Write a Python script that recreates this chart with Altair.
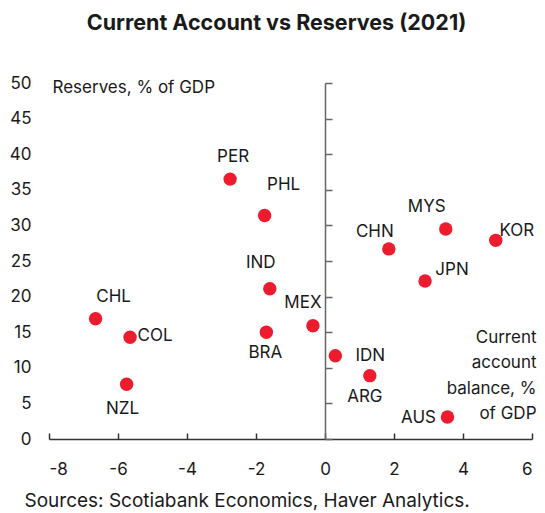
import altair as alt
import pandas as pd

# ---- data ----
countries = ["PER", "PHL", "IND", "BRA", "CHL", "COL", "NZL", "MEX",
             "IDN", "ARG", "CHN", "MYS", "KOR", "JPN", "AUS"]
current_account = [-2.75, -1.75, -1.6, -1.7, -6.65, -5.65, -5.75, -0.35,
                   0.3, 1.3, 1.85, 3.5, 4.95, 2.9, 3.55]
reserves = [36.5, 31.4, 21.1, 15.0, 16.9, 14.3, 7.7, 15.9,
            11.7, 8.9, 26.7, 29.5, 27.9, 22.2, 3.1]
x_ticks = [-8, -6, -4, -2, 0, 2, 4, 6]
y_ticks = [0, 5, 10, 15, 20, 25, 30, 35, 40, 45, 50]

# ---- styling: label placement relative to each point (pixels) ----
LABEL_OFFSET = {
    "PER": (3, -22), "PHL": (19, -30), "IND": (-9, -26), "BRA": (-1, 21),
    "CHL": (18, -22), "COL": (25, -1), "NZL": (-4, 25), "MEX": (-10, -23),
    "IDN": (35, 0), "ARG": (-5, 21), "CHN": (-14, -17), "MYS": (-19, -22),
    "KOR": (21, -9), "JPN": (27, -11), "AUS": (-29, 1),
}

FONT = "Inter"
RED = "#ec1c2e"
TXT = "#1a1a1a"
W, H = 483, 356
FS = 17

df = pd.DataFrame({"country": countries, "ca": current_account, "res": reserves})

xscale = alt.Scale(domain=[-8, 6], nice=False, zero=False)
yscale = alt.Scale(domain=[0, 50], nice=False)

axis_bottom = alt.Axis(
    orient="bottom", values=x_ticks, domain=False, ticks=False, grid=False,
    labelExpr="datum.value + ''",
    labelFont=FONT, labelFontSize=FS, labelColor=TXT, labelPadding=22,
    title="Sources: Scotiabank Economics, Haver Analytics.",
    titleFont=FONT, titleFontSize=19, titleFontWeight="normal", titleColor=TXT,
    titleAnchor="start", titleAlign="left", titleBaseline="alphabetic",
    titleX=-25, titleY=67,
)
axis_left = alt.Axis(
    orient="left", values=y_ticks, domain=False, ticks=False, grid=False,
    labelFont=FONT, labelFontSize=FS, labelColor=TXT, labelPadding=18,
    title="Reserves, % of GDP", titleFont=FONT, titleFontSize=FS,
    titleFontWeight="normal", titleColor=TXT, titleAngle=0,
    titleAlign="left", titleBaseline="middle", titleX=3, titleY=4,
)
axis_top = alt.Axis(
    orient="top", values=x_ticks, offset=-H, domain=True, ticks=True,
    labels=False, grid=False, tickSize=6, tickColor="#333", domainColor="#333",
    tickWidth=1.5, domainWidth=1.5,
    title=["Current", "account", "balance, %", "of GDP"],
    titleFont=FONT, titleFontSize=FS, titleFontWeight="normal", titleColor=TXT,
    titleAlign="right", titleBaseline="alphabetic", titleLineHeight=25.5,
    titleX=W + 4, titleY=-97, titleAnchor="end",
)
axis_right = alt.Axis(
    orient="right", values=y_ticks, offset=-(W * 6 / 14), domain=True,
    ticks=True, labels=False, grid=False, tickSize=7, tickColor="#666",
    domainColor="#666", tickWidth=1.5, domainWidth=1.5, title=None,
)

base = alt.Chart(df)

frame = base.mark_point(opacity=0).encode(
    x=alt.X("ca:Q", scale=xscale, axis=axis_top),
    y=alt.Y("res:Q", scale=yscale, axis=axis_right),
)
points = base.mark_circle(size=180, color=RED, opacity=1).encode(
    x=alt.X("ca:Q", scale=xscale, axis=axis_bottom),
    y=alt.Y("res:Q", scale=yscale, axis=axis_left),
)

label_layers = []
for c in countries:
    dx, dy = LABEL_OFFSET[c]
    label_layers.append(
        base.transform_filter(alt.datum.country == c)
        .mark_text(font=FONT, fontSize=FS, color=TXT, align="center",
                   baseline="middle", dx=dx, dy=dy)
        .encode(
            x=alt.X("ca:Q", scale=xscale, axis=None),
            y=alt.Y("res:Q", scale=yscale, axis=None),
            text="country:N",
        )
    )

chart = (
    alt.layer(frame, points, *label_layers)
    .resolve_scale(x="independent", y="independent")
    .properties(
        width=W, height=H,
        title=alt.TitleParams(
            "Current Account vs Reserves (2021)", font=FONT, fontSize=21.5,
            fontWeight="bold", color=TXT, anchor="middle", dx=-14,
            baseline="alphabetic", offset=23,
        ),
        autosize=alt.AutoSizeParams(type="none"),
        padding={"left": 41, "top": 75, "right": 5, "bottom": 72},
    )
    .configure_view(stroke=None)
)

chart.save("out.html", embed_options={"renderer": "svg", "actions": False})
